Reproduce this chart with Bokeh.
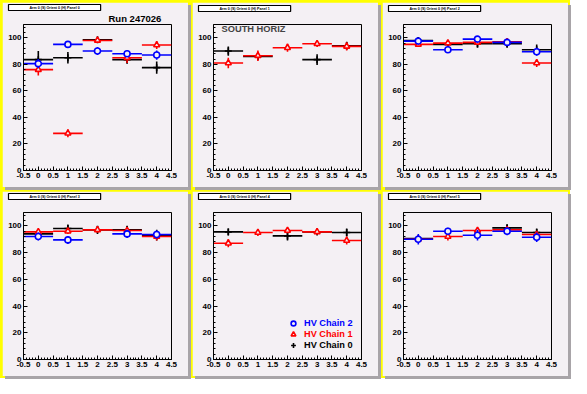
from bokeh.plotting import figure
from bokeh.layouts import gridplot
from bokeh.models import (Range1d, SingleIntervalTicker, Label, Legend, LegendItem,
                          ColumnDataSource, Title)
from bokeh.embed import file_html
from bokeh.resources import INLINE

# ---------------- data ----------------
x_bins = [0, 1, 2, 3, 4]
bin_half_width = 0.5
x_tick_values = [-0.5, 0, 0.5, 1, 1.5, 2, 2.5, 3, 3.5, 4, 4.5]
x_tick_labels = ["-0.5", "0", "0.5", "1", "1.5", "2", "2.5", "3", "3.5", "4", "4.5"]
y_tick_values = [0, 20, 40, 60, 80, 100]
y_tick_labels = ["0", "20", "40", "60", "80", "100"]

panel_titles = [
    "Arm 0 (S) Orient 0 (H) Panel 0",
    "Arm 0 (S) Orient 0 (H) Panel 1",
    "Arm 0 (S) Orient 0 (H) Panel 2",
    "Arm 0 (S) Orient 0 (H) Panel 3",
    "Arm 0 (S) Orient 0 (H) Panel 4",
    "Arm 0 (S) Orient 0 (H) Panel 5",
]
run_label = "Run 247026"
region_label = "SOUTH HORIZ"
chain_names = ["HV Chain 2", "HV Chain 1", "HV Chain 0"]

# None = no point in that bin
p0_chain0 = [83.5, 85.0, 98.5, 83.5, 77.5]
p0_chain0_err = [6.5, 4.3, 1.5, 3.0, 4.6]
p0_chain1 = [76.0, 28.0, 98.0, 85.0, 94.5]
p0_chain1_err = [4.5, 3.0, 1.5, 4.0, 3.0]
p0_chain2 = [80.5, 95.0, 90.0, 88.0, 87.0]
p0_chain2_err = [3.5, 2.0, 3.0, 2.5, 3.5]

p1_chain0 = [90.0, 86.0, None, 83.5, 94.0]
p1_chain0_err = [3.5, 3.0, None, 4.0, 3.0]
p1_chain1 = [81.0, 86.5, 92.5, 95.5, 93.5]
p1_chain1_err = [4.0, 4.0, 3.0, 2.5, 3.0]
p1_chain2 = [None, None, None, None, None]
p1_chain2_err = [None, None, None, None, None]

p2_chain0 = [98.0, 95.0, 95.5, 95.5, 91.0]
p2_chain0_err = [2.5, 2.0, 3.0, 3.0, 4.0]
p2_chain1 = [95.0, 96.0, 96.5, 97.0, 81.0]
p2_chain1_err = [2.0, 2.0, 2.0, 2.0, 3.0]
p2_chain2 = [97.5, 91.0, 99.0, 96.5, 89.5]
p2_chain2_err = [2.0, 2.5, 2.0, 2.0, 3.0]

p3_chain0 = [94.0, 98.0, 97.0, 97.0, 93.0]
p3_chain0_err = [2.5, 3.0, 3.0, 3.0, 4.0]
p3_chain1 = [95.5, 96.0, 97.0, 96.5, 92.0]
p3_chain1_err = [2.0, 2.0, 2.0, 2.0, 3.0]
p3_chain2 = [92.0, 89.5, None, 94.0, 93.5]
p3_chain2_err = [3.0, 3.0, None, 3.0, 3.0]

p4_chain0 = [95.5, None, 92.5, 95.5, 95.0]
p4_chain0_err = [2.5, None, 3.5, 2.0, 3.0]
p4_chain1 = [87.0, 95.0, 96.5, 95.5, 89.0]
p4_chain1_err = [3.0, 2.5, 2.0, 2.0, 3.0]
p4_chain2 = [None, None, None, None, None]
p4_chain2_err = [None, None, None, None, None]

p5_chain0 = [90.5, None, None, 98.5, 95.0]
p5_chain0_err = [2.0, None, None, 2.5, 3.0]
p5_chain1 = [90.0, 92.0, 96.5, 97.0, 93.5]
p5_chain1_err = [2.5, 3.0, 2.0, 2.0, 2.5]
p5_chain2 = [90.0, 96.0, 93.0, 96.0, 91.5]
p5_chain2_err = [4.0, 2.5, 4.0, 3.0, 3.5]

# ---------------- style ----------------
PAD = "#f4f0f4"
FONT = "Liberation Sans"
C0, C1, C2 = "#000000", "#ff0000", "#0000ff"
W, H = 186, 185
MB_L, MB_R, MB_T, MB_B = 21, 17, 20, 17
FRAME_H = H - MB_T - MB_B


def series_source(values, errs):
    xs, ys, es = [], [], []
    for xb, v, e in zip(x_bins, values, errs):
        if v is None:
            continue
        xs.append(xb); ys.append(v); es.append(e)
    return ColumnDataSource(dict(
        x=xs, y=ys,
        xl=[x - bin_half_width for x in xs], xr=[x + bin_half_width for x in xs],
        ylo=[y - e for y, e in zip(ys, es)], yhi=[y + e for y, e in zip(ys, es)],
    ))


def add_series(p, values, errs, color, marker):
    src = series_source(values, errs)
    p.segment(x0="xl", x1="xr", y0="y", y1="y", source=src, line_color=color, line_width=1.6)
    p.segment(x0="x", x1="x", y0="ylo", y1="yhi", source=src, line_color=color, line_width=1.6)
    if marker == "cross":
        p.scatter("x", "y", source=src, marker="cross", size=7, line_color=color, line_width=1.6)
    else:
        p.scatter("x", "y", source=src, marker=marker, size=6, line_color=color,
                  fill_color=PAD, line_width=1.6)


def box_title(idx):
    return Title(text=panel_titles[idx], align="left", offset=-15, standoff=0,
                 text_font=FONT, text_font_size="3.6px", text_font_style="bold",
                 text_color="black", background_fill_color="white",
                 border_line_color="black", border_line_width=1.2,
                 padding=dict(left=21, right=21, top=1, bottom=1))


def make_panel(idx, c0, e0, c1, e1, c2, e2):
    p = figure(width=W, height=H, x_range=Range1d(-0.5, 4.5), y_range=Range1d(0, 110),
               output_backend="svg", toolbar_location=None,
               min_border_left=MB_L, min_border_right=MB_R,
               min_border_top=MB_T, min_border_bottom=MB_B,
               background_fill_color=PAD, border_fill_color=PAD,
               outline_line_color="black", outline_line_width=1)
    p.grid.visible = False
    p.xaxis.ticker = SingleIntervalTicker(interval=0.5, num_minor_ticks=5)
    p.yaxis.ticker = SingleIntervalTicker(interval=20, num_minor_ticks=5)
    p.xaxis.major_label_overrides = dict(zip(x_tick_values, x_tick_labels))
    p.yaxis.major_label_overrides = dict(zip(y_tick_values, y_tick_labels))
    for ax in (p.xaxis[0], p.yaxis[0]):
        ax.major_tick_in = 4
        ax.major_tick_out = 0
        ax.minor_tick_in = 2
        ax.minor_tick_out = 0
        ax.axis_line_color = "black"
        ax.major_tick_line_color = "black"
        ax.minor_tick_line_color = "black"
        ax.major_label_text_font = FONT
        ax.major_label_text_font_style = "bold"
        ax.major_label_text_font_size = "8px"
        ax.major_label_text_color = "black"
        ax.major_label_standoff = 2

    add_series(p, c0, e0, C0, "cross")
    add_series(p, c1, e1, C1, "triangle")
    add_series(p, c2, e2, C2, "circle")

    # panel box title (outermost row of the top border)
    p.title = box_title(idx)
    return p


p0 = make_panel(0, p0_chain0, p0_chain0_err, p0_chain1, p0_chain1_err, p0_chain2, p0_chain2_err)
p1 = make_panel(1, p1_chain0, p1_chain0_err, p1_chain1, p1_chain1_err, p1_chain2, p1_chain2_err)
p2 = make_panel(2, p2_chain0, p2_chain0_err, p2_chain1, p2_chain1_err, p2_chain2, p2_chain2_err)
p3 = make_panel(3, p3_chain0, p3_chain0_err, p3_chain1, p3_chain1_err, p3_chain2, p3_chain2_err)
p4 = make_panel(4, p4_chain0, p4_chain0_err, p4_chain1, p4_chain1_err, p4_chain2, p4_chain2_err)
p5 = make_panel(5, p5_chain0, p5_chain0_err, p5_chain1, p5_chain1_err, p5_chain2, p5_chain2_err)

# run label sits between the box and the frame in panel 0
p0.add_layout(Title(text=run_label, align="left", offset=85, standoff=1,
                    text_font=FONT, text_font_size="9.5px", text_font_style="bold",
                    text_color="black"), "above")
# spacer rows that lift the box title in the other panels
for p in (p1, p2, p3, p4, p5):
    p.add_layout(Title(text=" ", standoff=10, text_font=FONT, text_font_size="1px"), "above")

p1.add_layout(Label(x=8, y=FRAME_H - 6, x_units="screen", y_units="screen",
                    text=region_label, text_font=FONT, text_font_size="9.3px",
                    text_font_style="bold", text_align="left", text_baseline="middle"))

# legend (in panel 4) built from hidden legend-only renderers
legend_specs = [(chain_names[0], C2, "circle", 30), (chain_names[1], C1, "triangle", 19),
                (chain_names[2], C0, "cross", 8)]
for name, color, marker, ly in legend_specs:
    r = p4.scatter(x=[x_bins[0]], y=[0], marker=marker, line_color=color,
                   fill_color=PAD, line_width=1.6, visible=False)
    leg = Legend(items=[LegendItem(label=name, renderers=[r])], location=(74, ly),
                 label_text_color=color, label_text_font=FONT, label_text_font_style="bold",
                 label_text_font_size="9.2px", background_fill_alpha=0, border_line_alpha=0,
                 padding=0, margin=0, spacing=0, glyph_width=12, glyph_height=12,
                 label_height=12, label_standoff=5)
    p4.add_layout(leg)

for p in (p0, p1, p2, p3, p4, p5):
    p.styles = {"box-shadow": "3px 3px 0px #a8a4a8"}

grid = gridplot([[p0, p1, p2], [p3, p4, p5]], toolbar_location=None)
grid.spacing = 4
grid.styles = {"background-color": "#ffff00", "padding": "2px"}

open("out.html", "w").write(file_html(grid, INLINE))
